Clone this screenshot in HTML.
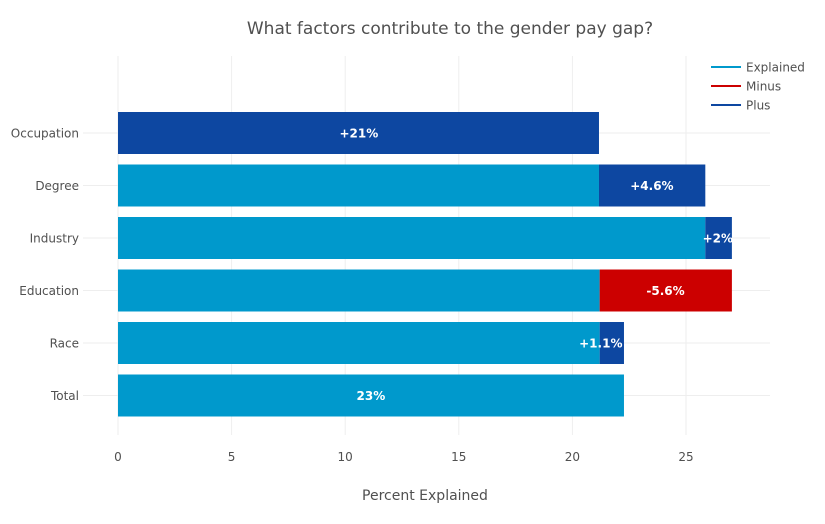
<!DOCTYPE html>
<html><head><meta charset="utf-8"><title>What factors contribute to the gender pay gap?</title>
<style>html,body{margin:0;padding:0;background:#fff}svg{display:block}text{font-family:"DejaVu Sans","Liberation Sans",sans-serif}</style></head>
<body>
<svg id="chart" width="825" height="524" viewBox="0 0 825 524" xmlns="http://www.w3.org/2000/svg"></svg>
<script>
const categories = ["Occupation","Degree","Industry","Education","Race","Total"];
const explained = [0,21.17,25.85,21.2,21.2,22.27];
const minus = [0,0,0,5.82,0,0];
const plus = [21.17,4.68,1.17,0,1.07,0];
const labels = ["+21%","+4.6%","+2%","-5.6%","+1.1%","23%"];
const labelValues = [10.6,23.5,26.4,24.1,21.25,11.13];
const xTicks = [0,5,10,15,20,25];
const seriesNames = ["Explained","Minus","Plus"];
const seriesColors = ["#0099cc","#cc0000","#0d47a1"];

const svg = document.getElementById('chart');
const NS = 'http://www.w3.org/2000/svg';
const x = v => 118 + v * 22.72;
const y = i => 133 + i * 52.5;
function make(tag, attrs, text) {
  const el = document.createElementNS(NS, tag);
  for (const k in attrs) el.setAttribute(k, attrs[k]);
  if (text !== undefined) el.textContent = text;
  svg.appendChild(el);
  return el;
}
const title = make('text', {x:450, y:34, 'text-anchor':'middle', 'font-size':17, fill:'#505050'}, 'What factors contribute to the gender pay gap?');


xTicks.forEach(t => {
  const g = make('line', {x1:x(t), x2:x(t), y1:56, y2:435, stroke:'#eeeeee', 'stroke-width':1});
  
  
  const l = make('text', {x:x(t), y:461, 'text-anchor':'middle', 'font-size':12, fill:'#505050'}, t);
  
  
});
categories.forEach((c, i) => {
  const g = make('line', {x1:83, x2:770, y1:y(i), y2:y(i), stroke:'#eeeeee', 'stroke-width':1});
  
  
  const l = make('text', {x:79, y:y(i)+4.5, 'text-anchor':'end', 'font-size':12, fill:'#505050'}, c);
  
  
});
categories.forEach((c, i) => {
  let base = 0;
  [explained, minus, plus].forEach((arr, s) => {
    const v = arr[i];
    if (v > 0) {
      const b = make('rect', {x:x(base), y:y(i)-21, width:x(base+v)-x(base), height:42, fill:seriesColors[s]});
      
      
    }
    base += v;
  });
});
categories.forEach((c, i) => {
  const l = make('text', {x:x(labelValues[i]), y:y(i)+4.5, 'text-anchor':'middle', 'font-size':12, 'font-weight':'bold', fill:'#fff'}, labels[i]);
  
  
});
seriesNames.forEach((n, i) => {
  const ly = 67 + i * 19;
  const k = make('line', {x1:711, x2:741, y1:ly, y2:ly, stroke:seriesColors[i], 'stroke-width':2});
  
  
  const t = make('text', {x:746, y:ly+4.5, 'font-size':12, fill:'#505050'}, n);
  
  
});
const xt = make('text', {x:425, y:500, 'text-anchor':'middle', 'font-size':14, fill:'#505050'}, 'Percent Explained');


</script>
</body></html>
